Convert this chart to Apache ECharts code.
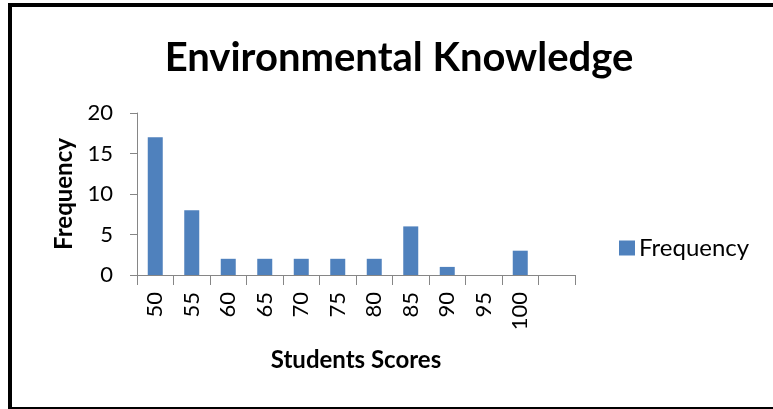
<!DOCTYPE html>
<html><head><meta charset="utf-8">
<script src="https://cdn.jsdelivr.net/npm/echarts@6/dist/echarts.min.js"></script>
<style>
html,body{margin:0;padding:0;background:#fff;}
#frame{position:absolute;left:8px;top:3px;width:800px;height:400px;border-left:4px solid #000;border-top:4px solid #000;border-bottom:2px solid #000;box-sizing:content-box;}
#chart{position:absolute;left:0;top:0;width:773px;height:409px;}
</style></head>
<body>
<div id="frame"></div>
<div id="chart"></div>
<script>
const categories = ['50','55','60','65','70','75','80','85','90','95','100',''];
const frequency = [17, 8, 2, 2, 2, 2, 2, 6, 1, 0, 3, null];
const yTicks = {min: 0, max: 20, interval: 5};

const chart = echarts.init(document.getElementById('chart'), null, {renderer: 'canvas'});
const font = 'Lato, "Open Sans", sans-serif';
chart.setOption({
  animation: false,
  title: {
    text: 'Environmental Knowledge',
    left: 394, top: 33, textAlign: 'center',
    textStyle: {fontFamily: font, fontWeight: 'bold', fontSize: 40, color: '#000'}
  },
  legend: {
    data: ['Frequency'],
    left: 619, top: 236, padding: 0,
    itemWidth: 16, itemHeight: 15, itemGap: 5,
    icon: 'rect',
    textStyle: {fontFamily: font, fontSize: 24, color: '#000', padding: [0,0,0,-1]}
  },
  grid: {left: 137, right: 198, top: 113, bottom: 134, containLabel: false},
  xAxis: {
    type: 'category',
    data: categories,
    name: 'Students Scores',
    nameLocation: 'middle',
    nameGap: 73,
    nameTextStyle: {fontFamily: font, fontWeight: 'bold', fontSize: 24, color: '#000'},
    axisLine: {lineStyle: {color: '#868686', width: 1}},
    axisTick: {show: true, length: 10, lineStyle: {color: '#868686'}, alignWithLabel: false},
    axisLabel: {rotate: 90, fontFamily: font, fontSize: 22, color: '#000', margin: 17, interval: 0}
  },
  yAxis: {
    type: 'value',
    min: yTicks.min, max: yTicks.max, interval: yTicks.interval,
    name: 'Frequency',
    nameLocation: 'middle',
    nameGap: 61,
    nameRotate: 90,
    nameTextStyle: {fontFamily: font, fontWeight: 'bold', fontSize: 24, color: '#000'},
    splitLine: {show: false},
    axisLine: {show: true, lineStyle: {color: '#868686', width: 1}},
    axisTick: {show: true, length: 7, inside: false, lineStyle: {color: '#868686'}},
    axisLabel: {fontFamily: font, fontSize: 22, color: '#000', margin: 24}
  },
  series: [{
    name: 'Frequency',
    type: 'bar',
    data: frequency,
    barWidth: 15,
    itemStyle: {color: '#4F81BD'}
  }]
});
</script>
</body></html>
